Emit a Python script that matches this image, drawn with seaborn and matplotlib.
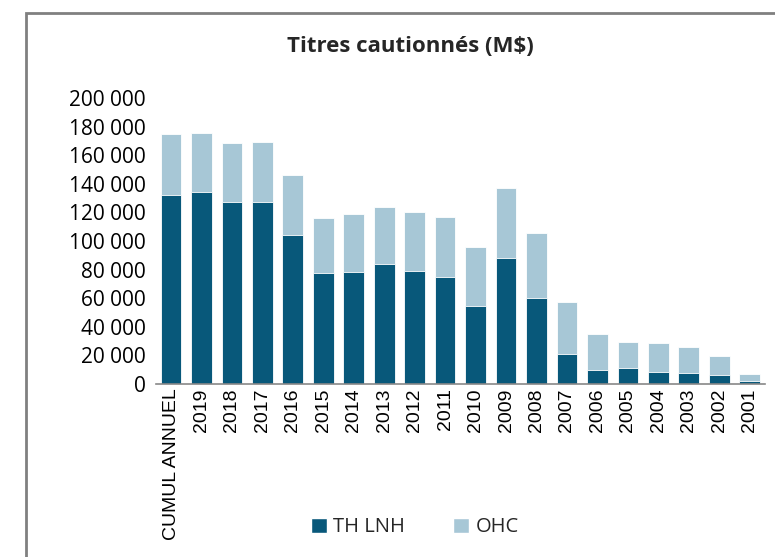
# Titres cautionnés - stacked bars
import numpy as np
import pandas as pd
import matplotlib
matplotlib.use('Agg')
import matplotlib.pyplot as plt
import seaborn as sns
from matplotlib.patches import Rectangle, Patch

categories = ['CUMUL ANNUEL', '2019', '2018', '2017', '2016', '2015', '2014', '2013',
              '2012', '2011', '2010', '2009', '2008', '2007', '2006', '2005', '2004',
              '2003', '2002', '2001']
th_lnh = [132200, 134000, 127300, 127300, 104400, 77800, 78500, 83700, 79200, 75000,
          54500, 88300, 60400, 21000, 9600, 11200, 8400, 7700, 6300, 2100]
total = [174800, 175700, 168300, 169000, 145900, 116100, 118700, 123600, 120300, 117000,
         95600, 136900, 105400, 57600, 35200, 29100, 28400, 25900, 19300, 7000]
ohc = [t - d for t, d in zip(total, th_lnh)]

dark = '#08587a'
light = '#a7c7d6'

df = pd.DataFrame({'annee': categories, 'TH LNH': th_lnh, 'OHC': ohc})
df['total'] = df['TH LNH'] + df['OHC']

sns.set_style('white')
fig = plt.figure(figsize=(7.75, 5.57), dpi=100)
ax = fig.add_axes([0.201, 0.3106, 0.786, 0.5134])

# stacked: total in light, then TH LNH on top in dark
sns.barplot(data=df, x='annee', y='total', color=light, width=0.68, saturation=1, ax=ax)
sns.barplot(data=df, x='annee', y='TH LNH', color=dark, width=0.68, saturation=1, ax=ax)
for p in ax.patches:
    p.set_edgecolor('white')
    p.set_linewidth(0.6)

ax.set_ylim(0, 200000)
ax.set_xlim(-0.5, len(categories) - 0.5)
ax.set_yticks(range(0, 200001, 20000))
ax.set_yticklabels(['{:,}'.format(v).replace(',', ' ') for v in range(0, 200001, 20000)],
                   fontsize=15, family='Open Sans', color='black')
ax.set_xticks(range(len(categories)))
ax.set_xticklabels(categories, rotation=90, fontsize=14, family='Liberation Sans', color='black')
ax.tick_params(axis='both', length=0, pad=3)
ax.tick_params(axis='y', pad=7)
ax.set_xlabel('')
ax.set_ylabel('')
for s in ['left', 'right', 'top']:
    ax.spines[s].set_visible(False)
ax.spines['bottom'].set_color('#888888')
ax.spines['bottom'].set_linewidth(1.2)

fig.text(0.53, 0.917, 'Titres cautionnés (M$)', ha='center', va='center',
         fontsize=16, fontweight='bold', family='Open Sans')

handles = [Patch(facecolor=dark, label='TH LNH'), Patch(facecolor=light, label='OHC')]
fig.legend(handles=handles, loc='center', bbox_to_anchor=(0.535, 0.053), ncol=2,
           frameon=False, prop={'family': 'Open Sans', 'size': 14.5},
           handlelength=0.8, handleheight=0.8, handletextpad=0.3, columnspacing=2.4)

# outer border of the chart area
fig.patches.append(Rectangle((26 / 775, -0.05), 1.0, 1 - 13 / 557 + 0.05, transform=fig.transFigure,
                             fill=False, edgecolor='#808080', linewidth=2))

fig.savefig('out.png', dpi=100)
